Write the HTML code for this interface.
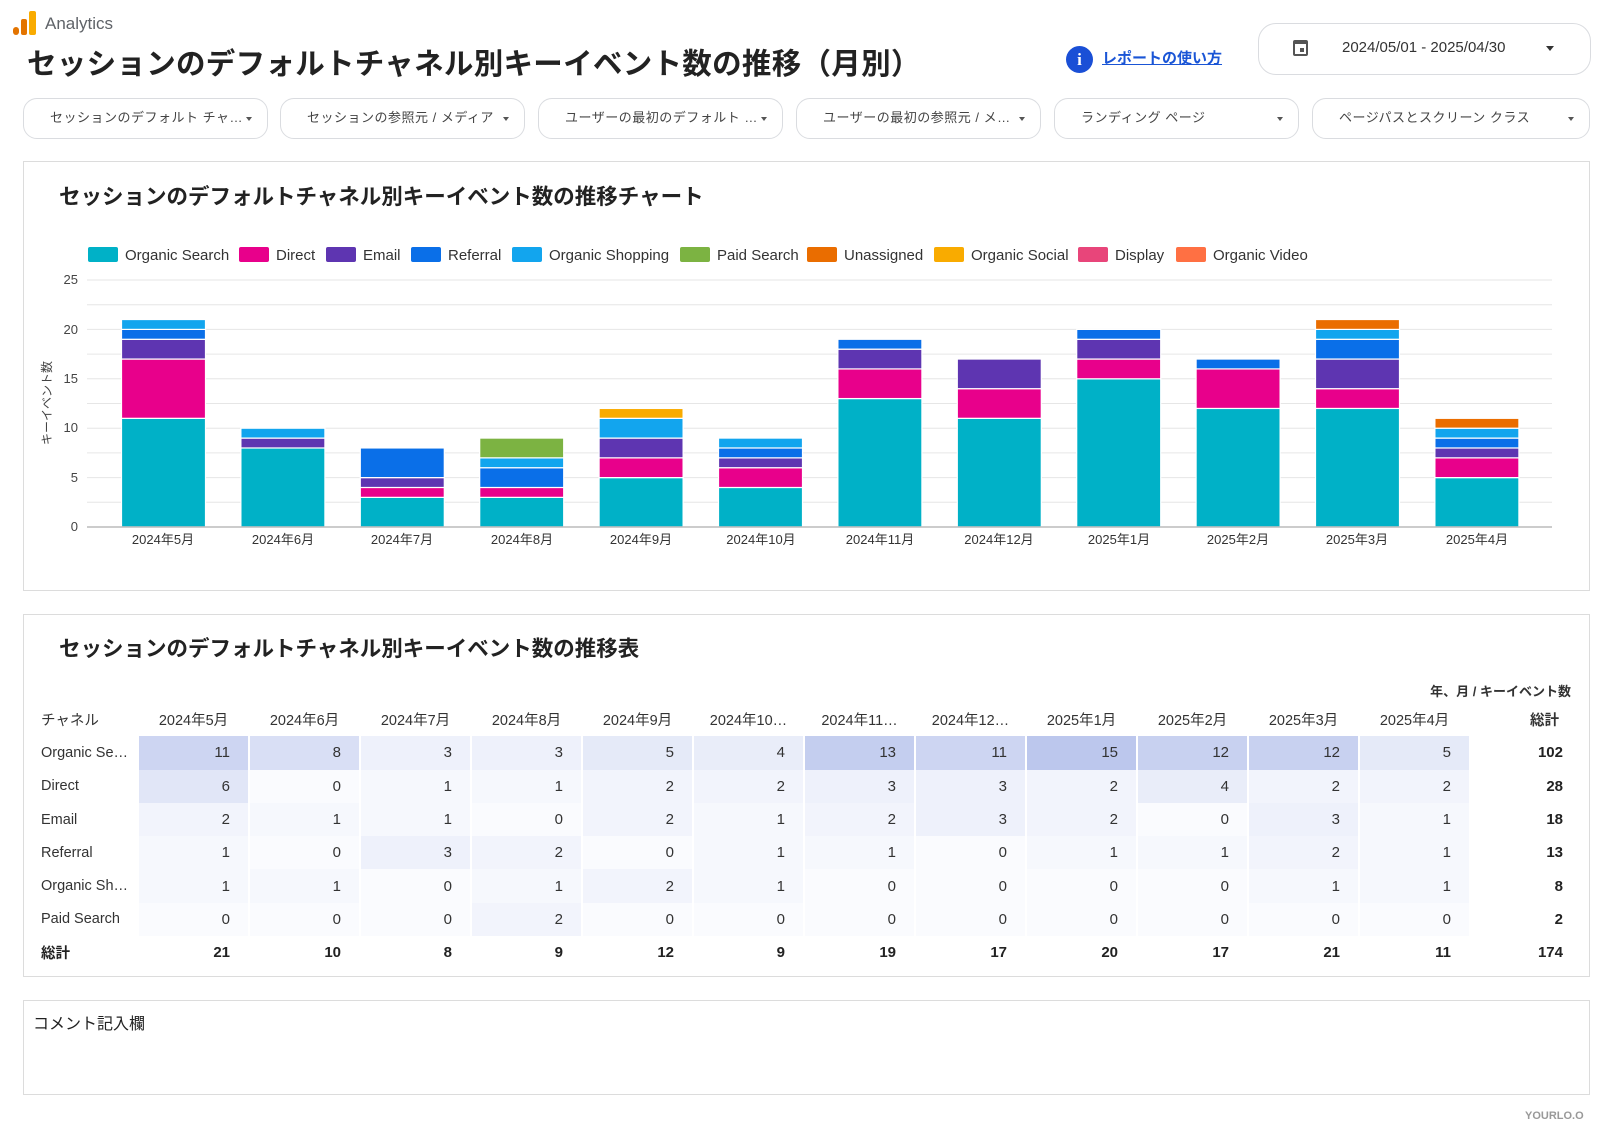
<!DOCTYPE html>
<html><head><meta charset="utf-8">
<style>
*{margin:0;padding:0;box-sizing:border-box}
body{width:1612px;height:1139px;background:#fff;font-family:"Liberation Sans","Noto Sans CJK JP",sans-serif;color:#222;position:relative;overflow:hidden}
.abs{position:absolute}
.card{position:absolute;left:23px;width:1567px;border:1.5px solid #dcdcdc;background:#fff}
.filter{position:absolute;top:98px;height:41px;border:1.5px solid #dadce0;border-radius:14px;font-size:13px;color:#444;line-height:38px;padding-left:26px;letter-spacing:0.5px}
.filter:after{content:"";position:absolute;right:15px;top:18px;border-left:3px solid transparent;border-right:3px solid transparent;border-top:4px solid #555}
table{position:absolute;left:34px;top:703px;border-collapse:separate;border-spacing:2px 0;table-layout:fixed;font-size:15px}
td,th{height:33.3px;white-space:nowrap;overflow:hidden}
th{font-weight:normal;font-size:14.5px;color:#333;text-align:center}
td{text-align:right;padding-right:18px;color:#333}
td.l{text-align:left;padding-left:5px;padding-right:0;width:101px;font-size:14.5px}
td.t{font-weight:bold;padding-right:8px;color:#222}
tr.tot td{font-weight:bold;color:#222}
</style></head><body>

<div class="abs" style="left:13px;top:27px;width:6px;height:8px;background:#e37400;border-radius:3px"></div>
<div class="abs" style="left:21px;top:19px;width:6px;height:16px;background:#e37400;border-radius:2px"></div>
<div class="abs" style="left:29px;top:11px;width:7px;height:24px;background:#f9ab00;border-radius:2px"></div>
<div class="abs" style="left:45px;top:14px;font-size:17px;color:#5f6368">Analytics</div>

<div class="abs" style="left:27px;top:41px;font-size:29.5px;font-weight:bold;color:#222;letter-spacing:0.3px;white-space:nowrap">セッションのデフォルトチャネル別キーイベント数の推移（月別）</div>

<div class="abs" style="left:1066px;top:46px;width:27px;height:27px;border-radius:50%;background:#1a4fd6;color:#fff;font-weight:bold;font-size:17px;text-align:center;line-height:27px;font-family:'Liberation Serif',serif">i</div>
<div class="abs" style="left:1102px;top:47px;font-size:15px;font-weight:bold;color:#1a55d6;text-decoration:underline">レポートの使い方</div>

<div class="abs" style="left:1258px;top:23px;width:333px;height:52px;border:1.5px solid #dadce0;border-radius:18px"></div>
<div class="abs" style="left:1293px;top:40px;width:15px;height:16px;border:2px solid #555;border-top-width:4px;border-radius:2px"><div style="position:absolute;right:2px;bottom:2px;width:4px;height:4px;background:#555"></div></div>
<div class="abs" style="left:1342px;top:39px;font-size:15px;color:#333">2024/05/01 - 2025/04/30</div>
<div class="abs" style="left:1546px;top:46px;border-left:4px solid transparent;border-right:4px solid transparent;border-top:5px solid #333"></div>

<div class="filter" style="left:23px;width:245px">セッションのデフォルト チャ…</div>
<div class="filter" style="left:280px;width:245px">セッションの参照元 / メディア</div>
<div class="filter" style="left:538px;width:245px">ユーザーの最初のデフォルト …</div>
<div class="filter" style="left:796px;width:245px">ユーザーの最初の参照元 / メ…</div>
<div class="filter" style="left:1054px;width:245px">ランディング ページ</div>
<div class="filter" style="left:1312px;width:278px">ページパスとスクリーン クラス</div>

<div class="card" style="top:161px;height:430px"></div>
<div class="abs" style="left:59px;top:180px;font-size:21.5px;font-weight:bold;color:#222;white-space:nowrap">セッションのデフォルトチャネル別キーイベント数の推移チャート</div>

<svg class="abs" style="left:0;top:0" width="1612" height="600" id="chart">
<g font-family="Liberation Sans, Noto Sans CJK JP, sans-serif" font-size="15" fill="#333">
<rect x="88" y="247" width="30" height="15" rx="2" fill="#00b1c7"/><text x="125" y="260">Organic Search</text>
<rect x="239" y="247" width="30" height="15" rx="2" fill="#e8008b"/><text x="276" y="260">Direct</text>
<rect x="326" y="247" width="30" height="15" rx="2" fill="#5e35b1"/><text x="363" y="260">Email</text>
<rect x="411" y="247" width="30" height="15" rx="2" fill="#0a6fe8"/><text x="448" y="260">Referral</text>
<rect x="512" y="247" width="30" height="15" rx="2" fill="#12a5ee"/><text x="549" y="260">Organic Shopping</text>
<rect x="680" y="247" width="30" height="15" rx="2" fill="#7cb342"/><text x="717" y="260">Paid Search</text>
<rect x="807" y="247" width="30" height="15" rx="2" fill="#ea6d00"/><text x="844" y="260">Unassigned</text>
<rect x="934" y="247" width="30" height="15" rx="2" fill="#f9ab00"/><text x="971" y="260">Organic Social</text>
<rect x="1078" y="247" width="30" height="15" rx="2" fill="#e8457a"/><text x="1115" y="260">Display</text>
<rect x="1176" y="247" width="30" height="15" rx="2" fill="#ff7043"/><text x="1213" y="260">Organic Video</text>
</g>
<g id="grid" stroke="#e6e6e6" stroke-width="1"></g>
<g font-family="Liberation Sans, sans-serif" font-size="13" fill="#444" text-anchor="end">
<text x="78" y="284">25</text><text x="78" y="334">20</text><text x="78" y="383">15</text><text x="78" y="432">10</text><text x="78" y="482">5</text><text x="78" y="531">0</text>
</g>
<text transform="translate(51,403) rotate(-90)" text-anchor="middle" font-family="Liberation Sans, Noto Sans CJK JP, sans-serif" font-size="12" fill="#444">キーイベント数</text>
<g id="bars"></g>
<line x1="87" y1="527" x2="1552" y2="527" stroke="#bbb" stroke-width="1.5"/>
<g font-family="Liberation Sans, Noto Sans CJK JP, sans-serif" font-size="13" fill="#333" text-anchor="middle">
<text x="163" y="544">2024年5月</text><text x="283" y="544">2024年6月</text><text x="402" y="544">2024年7月</text><text x="522" y="544">2024年8月</text><text x="641" y="544">2024年9月</text><text x="761" y="544">2024年10月</text><text x="880" y="544">2024年11月</text><text x="999" y="544">2024年12月</text><text x="1119" y="544">2025年1月</text><text x="1238" y="544">2025年2月</text><text x="1357" y="544">2025年3月</text><text x="1477" y="544">2025年4月</text>
</g>
</svg>

<div class="card" style="top:614px;height:363px"></div>
<div class="abs" style="left:59px;top:632px;font-size:21.5px;font-weight:bold;color:#222;white-space:nowrap">セッションのデフォルトチャネル別キーイベント数の推移表</div>
<div class="abs" style="left:1300px;width:271px;text-align:right;top:681px;font-size:13px;font-weight:bold;color:#333">年、月 / キーイベント数</div>

<table id="tbl">
<tr><th style="text-align:left;padding-left:5px;width:101px">チャネル</th><th style="width:109px">2024年5月</th><th style="width:109px">2024年6月</th><th style="width:109px">2024年7月</th><th style="width:109px">2024年8月</th><th style="width:109px">2024年9月</th><th style="width:109px">2024年10…</th><th style="width:109px">2024年11…</th><th style="width:109px">2024年12…</th><th style="width:109px">2025年1月</th><th style="width:109px">2025年2月</th><th style="width:109px">2025年3月</th><th style="width:109px">2025年4月</th><th style="width:100px;text-align:right;padding-right:12px;font-weight:bold">総計</th></tr>
<tr><td class="l">Organic Se…</td><td>11</td><td>8</td><td>3</td><td>3</td><td>5</td><td>4</td><td>13</td><td>11</td><td>15</td><td>12</td><td>12</td><td>5</td><td class="t">102</td></tr>
<tr><td class="l">Direct</td><td>6</td><td>0</td><td>1</td><td>1</td><td>2</td><td>2</td><td>3</td><td>3</td><td>2</td><td>4</td><td>2</td><td>2</td><td class="t">28</td></tr>
<tr><td class="l">Email</td><td>2</td><td>1</td><td>1</td><td>0</td><td>2</td><td>1</td><td>2</td><td>3</td><td>2</td><td>0</td><td>3</td><td>1</td><td class="t">18</td></tr>
<tr><td class="l">Referral</td><td>1</td><td>0</td><td>3</td><td>2</td><td>0</td><td>1</td><td>1</td><td>0</td><td>1</td><td>1</td><td>2</td><td>1</td><td class="t">13</td></tr>
<tr><td class="l">Organic Sh…</td><td>1</td><td>1</td><td>0</td><td>1</td><td>2</td><td>1</td><td>0</td><td>0</td><td>0</td><td>0</td><td>1</td><td>1</td><td class="t">8</td></tr>
<tr><td class="l">Paid Search</td><td>0</td><td>0</td><td>0</td><td>2</td><td>0</td><td>0</td><td>0</td><td>0</td><td>0</td><td>0</td><td>0</td><td>0</td><td class="t">2</td></tr>
<tr class="tot"><td class="l">総計</td><td>21</td><td>10</td><td>8</td><td>9</td><td>12</td><td>9</td><td>19</td><td>17</td><td>20</td><td>17</td><td>21</td><td>11</td><td class="t">174</td></tr>
</table>

<div class="card" style="top:1000px;height:95px"></div>
<div class="abs" style="left:33px;top:1010px;font-size:16px;color:#222">コメント記入欄</div>
<div class="abs" style="left:1525px;top:1110px;font-size:11px;color:#999;font-weight:bold">YOURLO.O</div>

<script>
var NS="http://www.w3.org/2000/svg";
var g=document.getElementById("grid");
for(var k=1;k<=10;k++){var y=527-k*2.5*9.88;var l=document.createElementNS(NS,"line");l.setAttribute("x1",87);l.setAttribute("x2",1552);l.setAttribute("y1",y);l.setAttribute("y2",y);g.appendChild(l);}
var data=[
[11,6,2,1,1,0,0,0],[8,0,1,0,1,0,0,0],[3,1,1,3,0,0,0,0],[3,1,0,2,1,2,0,0],[5,2,2,0,2,0,0,1],[4,2,1,1,1,0,0,0],
[13,3,2,1,0,0,0,0],[11,3,3,0,0,0,0,0],[15,2,2,1,0,0,0,0],[12,4,0,1,0,0,0,0],[12,2,3,2,1,0,1,0],[5,2,1,1,1,0,1,0]];
var cols=["#00b1c7","#e8008b","#5e35b1","#0a6fe8","#12a5ee","#7cb342","#ea6d00","#f9ab00"];
var b=document.getElementById("bars");
data.forEach(function(d,i){var x=121.5+119.4*i,acc=0;d.forEach(function(v,j){if(!v)return;var y1=527-acc*9.88,y0=527-(acc+v)*9.88;var r=document.createElementNS(NS,"rect");r.setAttribute("x",x);r.setAttribute("width",84);r.setAttribute("y",y0);r.setAttribute("height",y1-y0);r.setAttribute("fill",cols[j]);r.setAttribute("stroke","#fff");r.setAttribute("stroke-width","1.2");b.appendChild(r);acc+=v;});});
var rows=document.getElementById("tbl").rows;
for(var r=1;r<=6;r++){for(var c=1;c<=12;c++){var cell=rows[r].cells[c];var v=+cell.textContent;var t=Math.min(v/15,1);
var a=[250,251,254],z=[188,199,237];cell.style.background="rgb("+a.map(function(q,i){return Math.round(q+(z[i]-q)*t)}).join(",")+")";}}
</script>
</body></html>
